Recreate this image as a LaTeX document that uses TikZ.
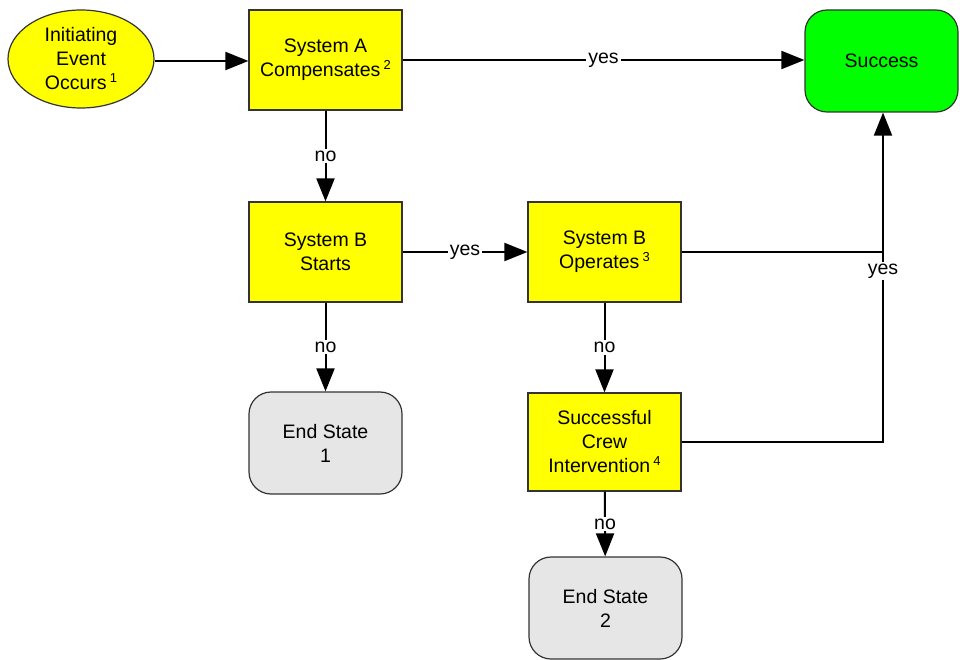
\documentclass[tikz,border=0pt]{standalone}
\usepackage{fontspec}
\setmainfont{Liberation Sans}
\usetikzlibrary{shapes.geometric,arrows.meta}
\definecolor{boxyellow}{HTML}{FFFF00}
\definecolor{boxgreen}{HTML}{00FF00}
\definecolor{boxgray}{HTML}{E6E6E6}
\newcommand{\supn}[1]{\,\raisebox{7pt}{\fontsize{13}{13}\selectfont #1}}
\begin{document}
\begin{tikzpicture}[x=1pt,y=-1pt,
  every node/.style={font=\fontsize{19.5}{24}\selectfont, align=center},
  decbox/.style={draw=black!80, line width=1.2pt, fill=boxyellow, minimum width=153pt, minimum height=100pt, inner sep=0pt},
  endbox/.style={draw=black!80, line width=1.2pt, fill=boxgray, rounded corners=22pt, minimum width=153pt, minimum height=102pt, inner sep=0pt},
  okbox/.style={draw=black!80, line width=1.2pt, fill=boxgreen, rounded corners=22pt, minimum width=153pt, minimum height=102pt, inner sep=0pt},
  startell/.style={ellipse, draw=black!80, line width=1.2pt, fill=boxyellow, minimum width=146pt, minimum height=98pt, inner sep=0pt},
  conn/.style={draw=black, line width=2pt},
  arr/.style={conn, -{Triangle[length=23pt,width=18pt]}},
  lbl/.style={fill=white, inner sep=2pt}
]
\useasboundingbox (0,0) rectangle (960,660);
\node[startell] (ie) at (81,59) {Initiating\\Event\\Occurs\supn{1}};
\node[decbox] (sa) at (325.5,60) {System A\\Compensates\supn{2}};
\node[okbox] (succ) at (881.5,61) {Success};
\node[decbox] (sbs) at (325.5,252) {System B\\Starts};
\node[decbox] (sbo) at (604.5,252) {System B\\Operates\supn{3}};
\node[endbox] (es1) at (325.5,443) {End State\\1};
\node[decbox, minimum height=98pt] (crew) at (604.5,442) {Successful\\Crew\\Intervention\supn{4}};
\node[endbox] (es2) at (605.5,608) {End State\\2};
\coordinate (jn) at (883,252);

\draw[arr] (ie.east |- 0,61) -- (sa.west |- 0,61);
\draw[arr] (sa.east) -- node[lbl] {yes} (succ.west |- sa.east);
\draw[arr] (sa) -- node[lbl, pos=0.5] {no} (sbs);
\draw[arr] (sbs) -- node[lbl] {yes} (sbo);
\draw[arr] (sbs) -- node[lbl] {no} (es1);
\draw[arr] (sbo) -- node[lbl] {no} (crew);
\draw[arr] (crew) -- node[lbl] {no} (es2);
\draw[conn] (sbo.east) -- (jn);
\draw[conn] (crew.east) -| node[lbl, pos=0.95] {yes} (jn);
\draw[arr] (jn) -- (jn |- succ.south);
\end{tikzpicture}
\end{document}
